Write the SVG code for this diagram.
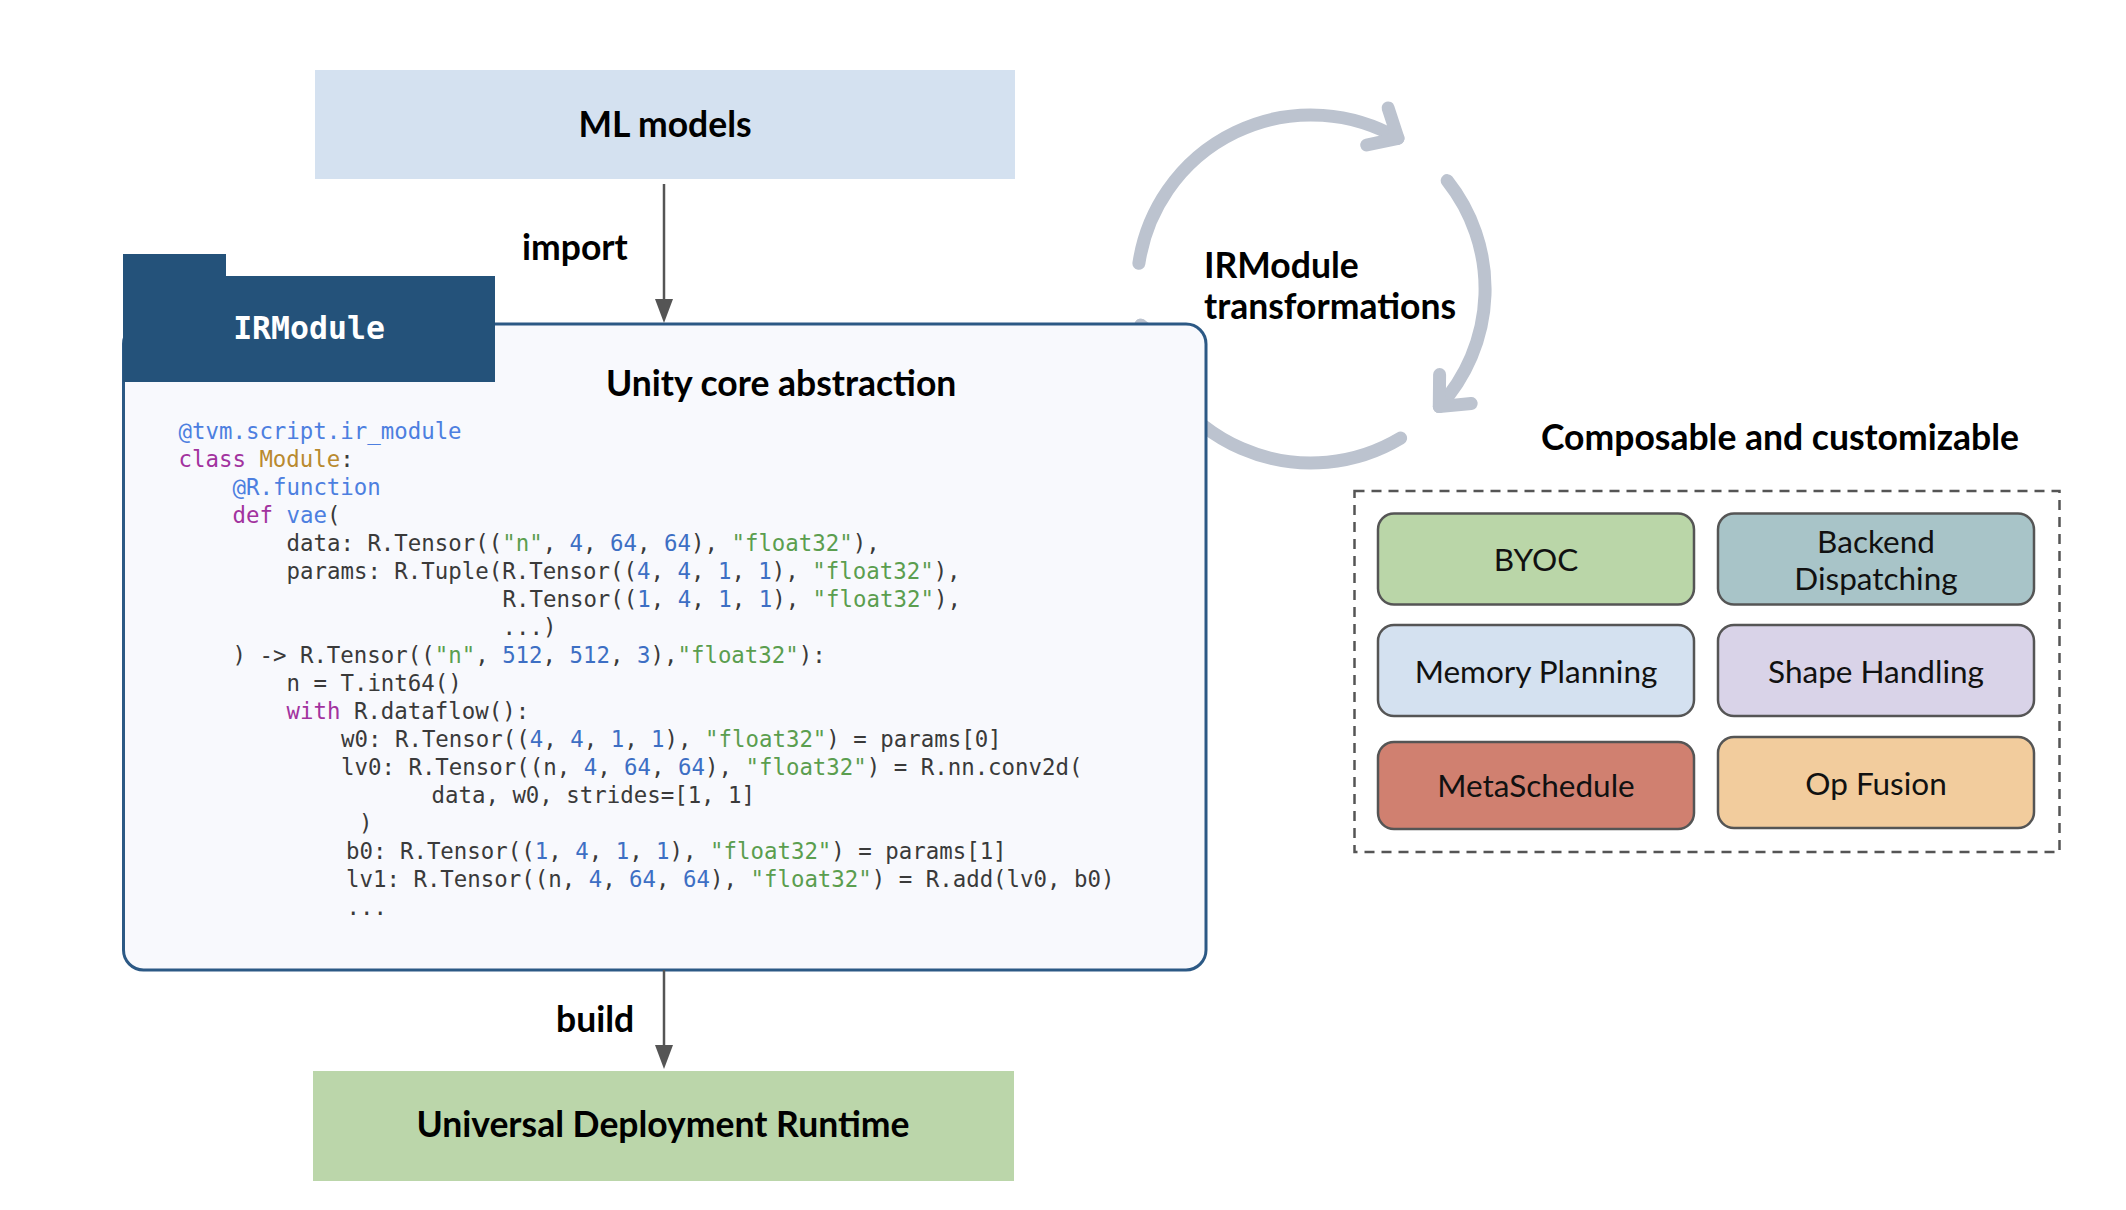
<svg xmlns="http://www.w3.org/2000/svg" width="2126" height="1210" viewBox="0 0 2126 1210">
<style>
.title{font-family:Lato,"Liberation Sans",sans-serif;font-weight:700;font-size:35.5px;fill:#000}
.lbl{font-family:Lato,"Liberation Sans",sans-serif;font-weight:400;font-size:31.5px;fill:#111;text-anchor:middle}
.code{font-family:"DejaVu Sans Mono","Liberation Mono",monospace;font-size:22.4px;fill:#3a3a3a;white-space:pre}
.dec{fill:#4d7fe0}.num{fill:#3d6fc4}.str{fill:#5b9e4f}.kw{fill:#a2339f}.cls{fill:#b98a2f}
.cbox{stroke:#555;stroke-width:2.5}
.cyc{fill:none;stroke:#bcc3cf;stroke-width:13;stroke-linecap:round;stroke-linejoin:round}
.conn{stroke:#555;stroke-width:2.5;fill:none}
</style>
<rect width="2126" height="1210" fill="#fff"/>

<g id="cycle">
<path class="cyc" d="M1138.9 263.3 A174 174 0 0 1 1398 138.3"/>
<path class="cyc" d="M1388.1 107.9 L1398 138.3 L1366.7 145"/>
<path class="cyc" d="M1447.2 180.6 A174 174 0 0 1 1439.3 406.6"/>
<path class="cyc" d="M1439.6 374.6 L1439.3 406.6 L1471.2 403.5"/>
<path class="cyc" d="M1400.6 438.1 A174 174 0 0 1 1140.8 325.2"/>
<path class="cyc" d="M1166.7 344 L1140.8 325.2 L1124.8 352.9"/>
<text class="title" x="1204" y="278" font-size="34.7">IRModule</text>
<text class="title" x="1204" y="319" font-size="34.7">transformations</text>
</g>

<g id="ml-models">
<rect x="315" y="70" width="700" height="109" fill="#d4e1f0"/>
<text class="title" x="665" y="137" text-anchor="middle">ML models</text>
</g>

<g id="irmodule">
<rect x="123.5" y="324" width="1082.5" height="646" rx="20" fill="#f8f9fd" stroke="#2c5985" stroke-width="3"/>
<path d="M123 254 H226 V276 H495 V382 H123 Z" fill="#24527a"/>
<text x="309" y="339" text-anchor="middle" font-family="'DejaVu Sans Mono','Liberation Mono',monospace" font-weight="700" font-size="31.5" fill="#fff">IRModule</text>
<text class="title" x="606" y="396">Unity core abstraction</text>
<g class="code" xml:space="preserve">
<text class="code" x="178.5" y="439"><tspan class="dec">@tvm.script.ir_module</tspan></text>
<text class="code" x="178.5" y="467"><tspan class="kw">class</tspan> <tspan class="cls">Module</tspan>:</text>
<text class="code" x="232.5" y="495"><tspan class="dec">@R.function</tspan></text>
<text class="code" x="232.5" y="523"><tspan class="kw">def</tspan> <tspan class="dec">vae</tspan>(</text>
<text class="code" x="286.5" y="551">data: R.Tensor((<tspan class="str">"n"</tspan>, <tspan class="num">4</tspan>, <tspan class="num">64</tspan>, <tspan class="num">64</tspan>), <tspan class="str">"float32"</tspan>),</text>
<text class="code" x="286.5" y="579">params: R.Tuple(R.Tensor((<tspan class="num">4</tspan>, <tspan class="num">4</tspan>, <tspan class="num">1</tspan>, <tspan class="num">1</tspan>), <tspan class="str">"float32"</tspan>),</text>
<text class="code" x="502.5" y="607">R.Tensor((<tspan class="num">1</tspan>, <tspan class="num">4</tspan>, <tspan class="num">1</tspan>, <tspan class="num">1</tspan>), <tspan class="str">"float32"</tspan>),</text>
<text class="code" x="502.5" y="635">...)</text>
<text class="code" x="232.5" y="663">) -&gt; R.Tensor((<tspan class="str">"n"</tspan>, <tspan class="num">512</tspan>, <tspan class="num">512</tspan>, <tspan class="num">3</tspan>),<tspan class="str">"float32"</tspan>):</text>
<text class="code" x="286.5" y="691">n = T.int64()</text>
<text class="code" x="286.5" y="719"><tspan class="kw">with</tspan> R.dataflow():</text>
<text class="code" x="341" y="747">w0: R.Tensor((<tspan class="num">4</tspan>, <tspan class="num">4</tspan>, <tspan class="num">1</tspan>, <tspan class="num">1</tspan>), <tspan class="str">"float32"</tspan>) = params[0]</text>
<text class="code" x="341" y="775">lv0: R.Tensor((n, <tspan class="num">4</tspan>, <tspan class="num">64</tspan>, <tspan class="num">64</tspan>), <tspan class="str">"float32"</tspan>) = R.nn.conv2d(</text>
<text class="code" x="431.5" y="803">data, w0, strides=[1, 1]</text>
<text class="code" x="359" y="831">)</text>
<text class="code" x="346" y="859">b0: R.Tensor((<tspan class="num">1</tspan>, <tspan class="num">4</tspan>, <tspan class="num">1</tspan>, <tspan class="num">1</tspan>), <tspan class="str">"float32"</tspan>) = params[1]</text>
<text class="code" x="346" y="887">lv1: R.Tensor((n, <tspan class="num">4</tspan>, <tspan class="num">64</tspan>, <tspan class="num">64</tspan>), <tspan class="str">"float32"</tspan>) = R.add(lv0, b0)</text>
<text class="code" x="346.5" y="915">...</text>
</g>
</g>

<g id="udr">
<rect x="313" y="1071" width="701" height="110" fill="#bbd6aa"/>
<text class="title" x="663" y="1137" text-anchor="middle">Universal Deployment Runtime</text>
</g>

<g id="connectors">
<line class="conn" x1="664" y1="184" x2="664" y2="300"/>
<polygon points="655,299 673,299 664,323" fill="#555"/>
<text class="title" x="522" y="260">import</text>
<line class="conn" x1="664" y1="970" x2="664" y2="1046"/>
<polygon points="655,1045 673,1045 664,1069" fill="#555"/>
<text class="title" x="556" y="1032">build</text>
</g>

<g id="composable">
<text class="title" x="1541" y="450" font-size="34.2">Composable and customizable</text>
<rect x="1354.5" y="491" width="705" height="361" fill="none" stroke="#555" stroke-width="2.5" stroke-dasharray="10 7"/>
</g>

<g id="byoc">
<rect class="cbox" x="1378" y="513.5" width="316" height="91" rx="16" fill="#bad6a8"/>
<text class="lbl" x="1536" y="571">BYOC</text>
</g>
<g id="backend-dispatching">
<rect class="cbox" x="1718" y="513.5" width="316" height="91" rx="16" fill="#a8c4c8"/>
<text class="lbl" x="1876" y="553">Backend</text>
<text class="lbl" x="1876" y="590">Dispatching</text>
</g>
<g id="memory-planning">
<rect class="cbox" x="1378" y="625" width="316" height="91" rx="16" fill="#d4e1f0"/>
<text class="lbl" x="1536" y="683">Memory Planning</text>
</g>
<g id="shape-handling">
<rect class="cbox" x="1718" y="625" width="316" height="91" rx="16" fill="#d9d3e8"/>
<text class="lbl" x="1876" y="683">Shape Handling</text>
</g>
<g id="metaschedule">
<rect class="cbox" x="1378" y="742" width="316" height="87" rx="16" fill="#d08070"/>
<text class="lbl" x="1536" y="797">MetaSchedule</text>
</g>
<g id="op-fusion">
<rect class="cbox" x="1718" y="737" width="316" height="91" rx="16" fill="#f2cc9d"/>
<text class="lbl" x="1876" y="795">Op Fusion</text>
</g>
</svg>
